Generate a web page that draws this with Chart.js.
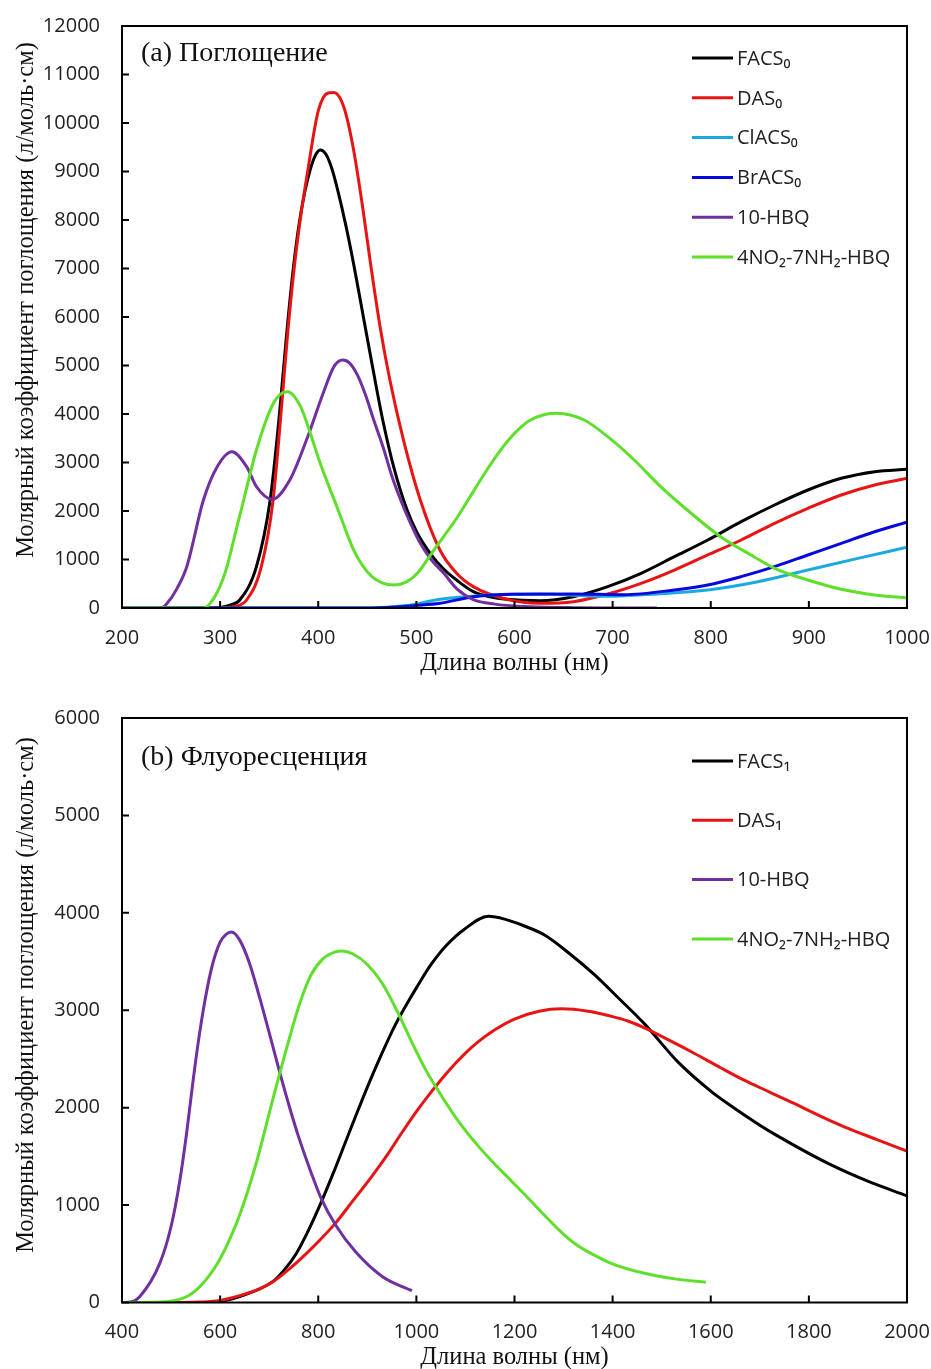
<!DOCTYPE html>
<html lang="ru">
  <head>
    <meta charset="UTF-8" />
    <title>Поглощение и флуоресценция</title>
    <script src="https://cdn.jsdelivr.net/npm/chart.js"></script>
    <style>
      * { margin: 0; padding: 0; box-sizing: border-box; }
      body { background: #ffffff; width: 931px; height: 1369px; overflow: hidden; }
      .panel { position: absolute; left: 0; width: 931px; }
      #absPanel { top: 0; height: 680px; }
      #flPanel { top: 680px; height: 689px; }
    </style>
  </head>
  <body>
    <div class="panel" id="absPanel"><canvas id="absChart"></canvas></div>
    <div class="panel" id="flPanel"><canvas id="flChart"></canvas></div>

    <script>
      // (a) absorption, wavelength in nm / molar coefficient
      const absFacsX = [200, 290, 310, 320, 337, 351, 360, 368, 374, 380, 386, 392, 397, 402, 408, 414, 420, 428, 436, 446, 456, 466, 477, 490, 501, 515, 528, 541, 558, 575, 592, 626, 660, 695, 729, 763, 797, 831, 865, 899, 933, 967, 1000];
      const absFacsY = [0, 0, 60, 165, 852, 2227, 3900, 5700, 6900, 7850, 8550, 9050, 9330, 9443, 9350, 9050, 8600, 7900, 7100, 6000, 4900, 3850, 2900, 2050, 1540, 1100, 800, 577, 337, 230, 179, 151, 233, 440, 715, 1058, 1402, 1780, 2124, 2433, 2674, 2811, 2859];

      const absDasX = [200, 300, 315, 327, 342, 354, 362, 369, 376, 383, 390, 396, 400, 405, 410, 416, 422, 428, 436, 445, 454, 463, 473, 487, 504, 524, 541, 558, 592, 626, 660, 695, 729, 763, 797, 831, 865, 899, 933, 967, 1000];
      const absDasY = [0, 0, 30, 165, 852, 2227, 4000, 5700, 7100, 8200, 9100, 9850, 10250, 10520, 10620, 10630, 10520, 10200, 9450, 8300, 7000, 5800, 4700, 3450, 2227, 1196, 715, 440, 179, 96, 130, 289, 509, 783, 1093, 1402, 1746, 2055, 2330, 2536, 2674];

      const absClX = [200, 450, 490, 524, 575, 626, 695, 745, 797, 848, 899, 950, 1000];
      const absClY = [0, 0, 50, 179, 268, 289, 240, 289, 371, 543, 783, 1024, 1251];

      const absBrX = [200, 450, 480, 500, 524, 558, 600, 660, 711, 763, 797, 831, 865, 899, 933, 967, 1000];
      const absBrY = [0, 0, 20, 50, 96, 233, 285, 289, 275, 371, 474, 646, 852, 1093, 1334, 1573, 1770];

      const absHbqX = [200, 240, 246, 256, 266, 283, 297, 312, 327, 337, 353, 371, 388, 405, 416, 425, 432, 440, 448, 457, 467, 475, 484, 494, 504, 515, 528, 541, 558, 580, 610, 650, 700, 745];
      const absHbqY = [0, 0, 96, 400, 852, 2227, 2914, 3223, 2914, 2502, 2241, 2639, 3464, 4426, 4976, 5113, 5050, 4800, 4400, 3850, 3258, 2720, 2227, 1750, 1333, 1000, 715, 400, 175, 80, 30, 8, 0, 0];

      const absNhX = [200, 283, 290, 300, 307, 315, 324, 337, 351, 360, 369, 382, 392, 402, 419, 436, 445, 455, 465, 477, 490, 501, 518, 541, 558, 572, 586, 600, 615, 630, 643, 671, 695, 722, 749, 776, 810, 844, 865, 899, 933, 967, 1000];
      const absNhY = [0, 0, 100, 450, 852, 1500, 2227, 3258, 4082, 4380, 4460, 4151, 3600, 2983, 2089, 1196, 880, 640, 520, 474, 540, 715, 1200, 1850, 2400, 2850, 3260, 3600, 3860, 3985, 4014, 3876, 3532, 3052, 2502, 2021, 1470, 1058, 818, 577, 385, 268, 213];

      // (b) fluorescence
      const flFacsX = [400, 560, 600, 640, 707, 730, 755, 780, 805, 830, 855, 880, 905, 930, 955, 980, 1000, 1030, 1060, 1100, 1147, 1180, 1220, 1262, 1310, 1364, 1415, 1465, 1533, 1600, 1635, 1700, 1736, 1838, 1920, 2000];
      const flFacsY = [0, 0, 10, 60, 214, 330, 500, 740, 1017, 1320, 1640, 1960, 2270, 2560, 2830, 3060, 3230, 3470, 3660, 3840, 3964, 3935, 3865, 3770, 3590, 3360, 3110, 2860, 2470, 2170, 2040, 1820, 1710, 1430, 1245, 1095];

      const flDasX = [400, 520, 560, 600, 640, 680, 707, 740, 775, 805, 836, 870, 910, 940, 970, 1000, 1030, 1066, 1100, 1127, 1160, 1200, 1250, 1296, 1350, 1400, 1431, 1465, 1520, 1567, 1620, 1668, 1720, 1770, 1820, 1872, 1940, 2000];
      const flDasY = [0, 0, 5, 22, 70, 140, 210, 340, 500, 650, 820, 1040, 1300, 1510, 1740, 1960, 2160, 2380, 2560, 2680, 2800, 2910, 2990, 3015, 2990, 2935, 2890, 2820, 2680, 2556, 2410, 2282, 2160, 2043, 1920, 1803, 1670, 1555];

      const flHbqX = [400, 420, 436, 477, 500, 518, 532, 545, 558, 572, 585, 600, 612, 623, 640, 660, 680, 700, 720, 740, 760, 785, 805, 836, 876, 931, 991];
      const flHbqY = [0, 8, 59, 402, 780, 1256, 1750, 2282, 2760, 3180, 3480, 3700, 3780, 3803, 3720, 3480, 3140, 2770, 2390, 2030, 1700, 1340, 1080, 790, 520, 265, 121];

      const flNhX = [400, 480, 531, 560, 592, 615, 640, 673, 707, 735, 761, 785, 810, 835, 849, 870, 900, 930, 960, 990, 1020, 1050, 1090, 1127, 1160, 1195, 1230, 1262, 1300, 1330, 1365, 1398, 1465, 1530, 1590];
      const flNhY = [0, 5, 59, 170, 380, 600, 900, 1420, 2077, 2600, 3050, 3360, 3530, 3600, 3608, 3580, 3470, 3280, 3000, 2680, 2380, 2130, 1830, 1600, 1420, 1240, 1060, 890, 700, 580, 480, 400, 300, 240, 207];

      const absTicksX = { min: 200, max: 1000, step: 100 };
      const absTicksY = { min: 0, max: 12000, step: 1000 };
      const flTicksX = { min: 400, max: 2000, step: 200 };
      const flTicksY = { min: 0, max: 6000, step: 1000 };

      const BLACK = "#000000";
      const RED = "#e81414";
      const CYAN = "#1ca9e2";
      const BLUE = "#0808dc";
      const PURPLE = "#7030a0";
      const GREEN = "#5ee02a";

      const serif = "'Liberation Serif', 'Times New Roman', serif";
      const sans = "'Open Sans', 'DejaVu Sans', sans-serif";
      const yTitle = "Молярный коэффициент поглощения (л/моль·см)";

      function series(label, color, xs, ys, order) {
        return {
          label,
          data: xs.map((x, i) => ({ x, y: ys[i] })),
          borderColor: color,
          borderWidth: 3,
          pointRadius: 0,
          fill: false,
          cubicInterpolationMode: "monotone",
          order,
        };
      }

      // box round the plot area plus short inward tick marks
      const frameTicks = {
        id: "frameTicks",
        afterDraw(chart) {
          const { ctx, chartArea: a, scales } = chart;
          ctx.save();
          ctx.strokeStyle = "#000";
          ctx.lineWidth = 2;
          ctx.strokeRect(a.left, a.top, a.right - a.left, a.bottom - a.top);
          ctx.beginPath();
          scales.x.ticks.forEach((t) => {
            const px = scales.x.getPixelForValue(t.value);
            ctx.moveTo(px, a.bottom);
            ctx.lineTo(px, a.bottom - 7);
          });
          scales.y.ticks.forEach((t) => {
            const py = scales.y.getPixelForValue(t.value);
            ctx.moveTo(a.left, py);
            ctx.lineTo(a.left + 7, py);
          });
          ctx.stroke();
          ctx.restore();
        },
      };

      // legend drawn inside the plot, one row per dataset
      const sideLegend = {
        id: "sideLegend",
        afterDraw(chart, args, opts) {
          const ctx = chart.ctx;
          ctx.save();
          ctx.font = "20px " + sans;
          ctx.textBaseline = "middle";
          ctx.fillStyle = "#222";
          chart.data.datasets.forEach((ds, i) => {
            const y = opts.top + i * opts.step;
            ctx.strokeStyle = ds.borderColor;
            ctx.lineWidth = 3;
            ctx.beginPath();
            ctx.moveTo(opts.left, y);
            ctx.lineTo(opts.left + 41, y);
            ctx.stroke();
            ctx.fillText(ds.label, opts.left + 45, y + 1);
          });
          ctx.restore();
        },
      };

      // panel caption in the corner and the rotated y title
      const panelText = {
        id: "panelText",
        afterDraw(chart, args, opts) {
          const ctx = chart.ctx;
          ctx.save();
          ctx.fillStyle = "#111";
          ctx.font = "28px " + serif;
          ctx.textBaseline = "alphabetic";
          ctx.fillText(opts.text, opts.x, opts.y);
          ctx.translate(opts.yTitleX, opts.yTitleY);
          ctx.rotate(-Math.PI / 2);
          ctx.font = "24.5px " + serif;
          ctx.textAlign = "center";
          ctx.textBaseline = "middle";
          ctx.fillText(yTitle, 0, 0);
          ctx.restore();
        },
      };

      function makeScales(tx, ty, xHeight, titlePad) {
        return {
          x: {
            type: "linear",
            min: tx.min,
            max: tx.max,
            grid: { display: false, drawTicks: false },
            border: { display: false },
            ticks: {
              stepSize: tx.step,
              padding: 18,
              color: "#222",
              font: { family: sans, size: 20 },
              maxRotation: 0,
              callback: (v) => String(v),
            },
            title: {
              display: true,
              text: "Длина волны (нм)",
              color: "#111",
              font: { family: serif, size: 24.5 },
              padding: { top: 0, bottom: titlePad },
            },
            afterFit(s) {
              s.height = xHeight;
              s.paddingLeft = 0;
              s.paddingRight = 0;
            },
          },
          y: {
            min: ty.min,
            max: ty.max,
            grid: { display: false, drawTicks: false },
            border: { display: false },
            ticks: {
              stepSize: ty.step,
              padding: 22,
              color: "#222",
              font: { family: sans, size: 20 },
              callback: (v) => String(v),
            },
            afterFit(s) {
              s.width = 122;
              s.paddingTop = 0;
              s.paddingBottom = 0;
            },
          },
        };
      }

      function baseOptions(tx, ty, xHeight, padTop, titlePad, legend, text) {
        return {
          responsive: true,
          maintainAspectRatio: false,
          animation: false,
          layout: { padding: { left: 0, top: padTop, right: 24, bottom: 0 } },
          plugins: {
            legend: { display: false },
            tooltip: { enabled: false },
            sideLegend: legend,
            panelText: text,
          },
          scales: makeScales(tx, ty, xHeight, titlePad),
        };
      }

      document.addEventListener("DOMContentLoaded", () => {
        new Chart(document.getElementById("absChart"), {
          type: "line",
          data: {
            datasets: [
              series("FACS₀", BLACK, absFacsX, absFacsY, 6),
              series("DAS₀", RED, absDasX, absDasY, 5),
              series("ClACS₀", CYAN, absClX, absClY, 4),
              series("BrACS₀", BLUE, absBrX, absBrY, 3),
              series("10-HBQ", PURPLE, absHbqX, absHbqY, 2),
              series("4NO₂-7NH₂-HBQ", GREEN, absNhX, absNhY, 1),
            ],
          },
          options: baseOptions(absTicksX, absTicksY, 72, 26, 2,
            { left: 692, top: 58, step: 39.8 },
            { text: "(a) Поглощение", x: 141, y: 61, yTitleX: 27, yTitleY: 300 }),
          plugins: [frameTicks, sideLegend, panelText],
        });

        new Chart(document.getElementById("flChart"), {
          type: "line",
          data: {
            datasets: [
              series("FACS₁", BLACK, flFacsX, flFacsY, 4),
              series("DAS₁", RED, flDasX, flDasY, 3),
              series("10-HBQ", PURPLE, flHbqX, flHbqY, 2),
              series("4NO₂-7NH₂-HBQ", GREEN, flNhX, flNhY, 1),
            ],
          },
          options: baseOptions(flTicksX, flTicksY, 66.5, 38, -3,
            { left: 692, top: 81, step: 59.3 },
            { text: "(b) Флуоресценция", x: 141, y: 85, yTitleX: 27, yTitleY: 315 }),
          plugins: [frameTicks, sideLegend, panelText],
        });
      });
    </script>
  </body>
</html>
